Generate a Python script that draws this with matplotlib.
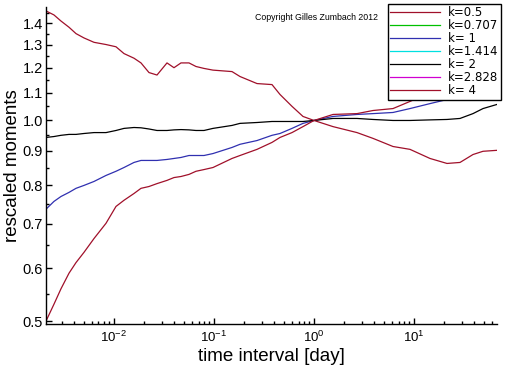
import matplotlib
matplotlib.use("Agg")
import matplotlib.pyplot as plt
from matplotlib.lines import Line2D

plt.rcParams['font.family'] = ['Liberation Sans', 'DejaVu Sans']
plt.rcParams['mathtext.fontset'] = 'custom'
plt.rcParams['mathtext.rm'] = 'Liberation Sans'
plt.rcParams['mathtext.it'] = 'Liberation Sans'
plt.rcParams['mathtext.bf'] = 'Liberation Sans'

# time interval [day]
time_interval = [0.00209, 0.00251, 0.00295, 0.00355, 0.00417, 0.00501, 0.00631, 0.00832,
                 0.01047, 0.01259, 0.01585, 0.01862, 0.02239, 0.02692, 0.03388, 0.03981,
                 0.04677, 0.05623, 0.06607, 0.07943, 0.09772, 0.1514, 0.1820, 0.2692,
                 0.3802, 0.4571, 0.6026, 0.7762, 1.0, 1.549, 2.692, 3.890, 6.166, 9.120,
                 14.45, 21.38, 28.84, 38.90, 48.98, 67.61]

moments_k05 = [1.46, 1.44, 1.41, 1.38, 1.35, 1.33, 1.31, 1.30, 1.29, 1.26, 1.24, 1.22,
               1.18, 1.17, 1.22, 1.20, 1.22, 1.22, 1.205, 1.197, 1.19, 1.184, 1.164,
               1.136, 1.132, 1.094, 1.05, 1.014, 1.0, 0.979, 0.959, 0.940, 0.914, 0.905,
               0.877, 0.862, 0.865, 0.889, 0.899, 0.902]

moments_k1 = [0.736, 0.756, 0.769, 0.780, 0.791, 0.799, 0.810, 0.827, 0.839, 0.850,
              0.865, 0.871, 0.871, 0.871, 0.874, 0.877, 0.880, 0.886, 0.886, 0.886,
              0.892, 0.911, 0.921, 0.933, 0.950, 0.956, 0.973, 0.990, 1.0, 1.014, 1.021,
              1.024, 1.028, 1.042, 1.060, 1.075, 1.079, 1.098, 1.117, 1.136]

moments_k2 = [0.943, 0.946, 0.950, 0.953, 0.953, 0.956, 0.959, 0.959, 0.966, 0.973,
              0.976, 0.975, 0.971, 0.966, 0.966, 0.968, 0.969, 0.968, 0.966, 0.966,
              0.973, 0.983, 0.990, 0.993, 0.9965, 0.9965, 0.9965, 0.9965, 1.0, 1.007,
              1.007, 1.0035, 1.0, 1.0, 1.002, 1.0035, 1.007, 1.024, 1.042, 1.057]

moments_k4 = [0.50, 0.530, 0.559, 0.590, 0.612, 0.634, 0.665, 0.701, 0.743, 0.759,
              0.777, 0.791, 0.796, 0.804, 0.813, 0.821, 0.824, 0.830, 0.839, 0.844,
              0.850, 0.877, 0.886, 0.905, 0.927, 0.943, 0.959, 0.979, 1.0, 1.021, 1.024,
              1.035, 1.042, 1.068, 1.101, 1.125, 1.109, 1.160, 1.184, 1.172]

legend_labels = ["k=0.5", "k=0.707", "k= 1", "k=1.414", "k= 2", "k=2.828", "k= 4"]
legend_colors = ["#a0102a", "#00c000", "#3030b0", "#00e0e0", "#000000", "#d000d0", "#a0102a"]

y_ticks = [0.5, 0.6, 0.7, 0.8, 0.9, 1.0, 1.1, 1.2, 1.3, 1.4]
y_minor = [0.55, 0.65, 0.75, 0.85, 0.95, 1.05, 1.15, 1.25, 1.35, 1.45]
x_ticks = [0.01, 0.1, 1, 10]
x_ticklabels = ["$10^{-2}$", "$10^{-1}$", "$10^{0}$", "$10^{1}$"]

fig = plt.figure(figsize=(5.12, 3.66), dpi=100)
ax = fig.add_axes([46/512, 1-324/366, (497-46)/512, (324-7)/366])

lw = 0.9
ax.plot(time_interval, moments_k05, color=legend_colors[0], lw=lw)
ax.plot(time_interval, moments_k1, color=legend_colors[2], lw=lw)
ax.plot(time_interval, moments_k2, color=legend_colors[4], lw=lw)
ax.plot(time_interval, moments_k4, color=legend_colors[6], lw=lw)

ax.set_xscale('log')
ax.set_yscale('log')
ax.set_xlim(0.00209, 67.6)
ax.set_ylim(0.495, 1.48)

ax.set_yticks(y_ticks)
ax.set_yticklabels([f"{v:.1f}" for v in y_ticks])
ax.set_yticks(y_minor, minor=True)
ax.yaxis.set_minor_formatter(matplotlib.ticker.NullFormatter())
ax.set_xticks(x_ticks)
ax.set_xticklabels(x_ticklabels)
ax.xaxis.set_minor_locator(matplotlib.ticker.LogLocator(base=10, subs=range(2, 10), numticks=20))
ax.xaxis.set_minor_formatter(matplotlib.ticker.NullFormatter())

for s in ['top', 'right']:
    ax.spines[s].set_visible(False)
for s in ['left', 'bottom']:
    ax.spines[s].set_linewidth(1.0)

ax.tick_params(axis='both', which='major', direction='in', length=4.5, width=1.0, colors='black')
ax.tick_params(axis='both', which='minor', direction='in', length=2.5, width=1.0)
ax.tick_params(axis='y', which='major', labelsize=10.5, pad=2)
ax.tick_params(axis='x', which='major', labelsize=9.5, pad=4)

ax.set_xlabel("time interval [day]", fontsize=13.5, va='top')
ax.xaxis.set_label_coords(0.5, (324 - 348) / 317)
ax.set_ylabel("rescaled moments", fontsize=13.5, labelpad=1)

fig.text(255/512, 1-17/366, "Copyright Gilles Zumbach 2012", fontsize=6.3, va='center', ha='left')

handles = [Line2D([], [], color=c, lw=lw) for c in legend_colors]
leg = fig.legend(handles, legend_labels, loc='upper left', bbox_to_anchor=(388/512, 1-4/366),
                 bbox_transform=fig.transFigure, frameon=True, fancybox=False,
                 edgecolor='black', framealpha=1, borderaxespad=0,
                 prop={'family': 'DejaVu Sans', 'size': 8.5},
                 handlelength=4.2, handletextpad=0.7, labelspacing=0.0, borderpad=0.2)
leg.get_frame().set_linewidth(1.0)

fig.savefig("out.png", dpi=100, facecolor='white')
